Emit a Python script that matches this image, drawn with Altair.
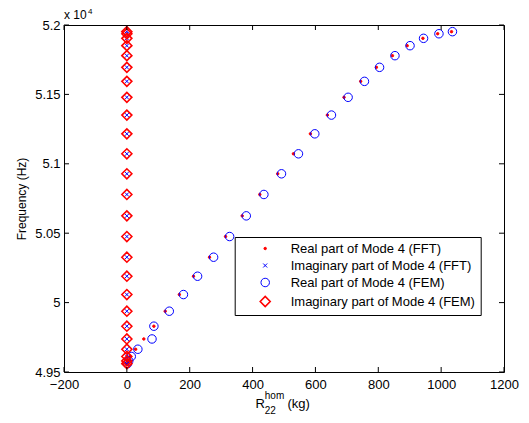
import altair as alt
import pandas as pd

FONT = "Liberation Sans"

# ---- data ----
freq_hz = [51952, 51937, 51904, 51851, 51779, 51695, 51594, 51479, 51351, 51216,
           51072, 50928, 50779, 50625, 50476, 50327, 50190, 50058, 49938, 49830,
           49738, 49664, 49612, 49580, 49560]
real_fft = [1033, 989, 942, 892, 845, 794, 744, 691, 638, 584,
            530, 480, 423, 367, 314, 263, 212, 167, 122, 86,
            54, 28, 10, 4, 1]
imag_fft = [0, 0, 0, 0, 0, 0, 0, 0, 0, 0,
            0, 0, 0, 0, 0, 0, 0, 0, 0, 0,
            0, 0, 0, 0, 0]
real_fem = [1036, 993, 944, 901, 853, 804, 756, 704, 651, 598,
            546, 492, 436, 380, 327, 276, 225, 180, 135, 86,
            80, 35, 14, 6, 2]
imag_fem = [0, 0, 0, 0, 0, 0, 0, 0, 0, 0,
            0, 0, 0, 0, 0, 0, 0, 0, 0, 0,
            0, 0, 0, 0, 0]

series_names = ["Real part of Mode 4 (FFT)", "Imaginary part of Mode 4 (FFT)",
                "Real part of Mode 4 (FEM)", "Imaginary part of Mode 4 (FEM)"]
series_values = [real_fft, imag_fft, real_fem, imag_fem]
series_stroke = ["#ff0000", "#0000ff", "#0000ff", "#ff0000"]
series_fill = ["#ff0000", "transparent", "transparent", "transparent"]
series_shape = ["circle", "M-1,-1L1,1M-1,1L1,-1", "circle", "diamond"]
series_size = [6, 16, 72, 100]
series_width = [1, 1, 1, 1.6]

x_ticks = [-200, 0, 200, 400, 600, 800, 1000, 1200]
y_ticks = [49500, 50000, 50500, 51000, 51500, 52000]

x_title_parts = ["R", "22", "hom", "(kg)"]
y_title = "Frequency (Hz)"
y_multiplier = ["x 10", "4"]

# ---- build table ----
rows = []
for name, vals in zip(series_names, series_values):
    for f, v in zip(freq_hz, vals):
        rows.append({"series": name, "r": v, "f": f})
df = pd.DataFrame(rows)

W, H = 440, 347
xscale = alt.Scale(domain=[-200, 1200], nice=False, zero=False)
yscale = alt.Scale(domain=[49500, 52000], nice=False, zero=False)

x_axis = alt.Axis(values=x_ticks, title=None, ticks=False, domain=False,
                  grid=False, labelFontSize=13, labelFont=FONT, format="d",
                  labelPadding=6, labelFlush=False, labelOverlap=False,
                  labelColor="black")
y_axis = alt.Axis(values=y_ticks, title=y_title, ticks=False, domain=False,
                  grid=False, labelFontSize=13, labelFont=FONT,
                  labelPadding=4, labelOverlap=False, labelColor="black",
                  labelExpr="format(datum.value/10000, '.3~g')",
                  titleFont=FONT, titleFontSize=12, titleFontWeight="normal",
                  titleColor="black", titlePadding=6)

leg = alt.Legend(orient="none", legendX=170.7, legendY=212, title=None,
                 strokeColor="black", fillColor="white", padding=5,
                 labelFontSize=13, labelFont=FONT, labelColor="black",
                 labelLimit=400, rowPadding=3, symbolOffset=19, labelOffset=19,
                 symbolStrokeWidth=1)

points = alt.Chart(df).mark_point(filled=False, opacity=1).encode(
    x=alt.X("r:Q", scale=xscale, axis=x_axis),
    y=alt.Y("f:Q", scale=yscale, axis=y_axis),
    stroke=alt.Stroke("series:N", scale=alt.Scale(domain=series_names, range=series_stroke), legend=leg),
    fill=alt.Fill("series:N", scale=alt.Scale(domain=series_names, range=series_fill), legend=leg),
    shape=alt.Shape("series:N", scale=alt.Scale(domain=series_names, range=series_shape), legend=leg),
    size=alt.Size("series:N", scale=alt.Scale(type="ordinal", domain=series_names, range=series_size), legend=leg),
    strokeWidth=alt.StrokeWidth("series:N", scale=alt.Scale(type="ordinal", domain=series_names, range=series_width), legend=None),
)

xt = pd.DataFrame({"v": x_ticks})
yt = pd.DataFrame({"v": y_ticks})
TL = 5
tick_bottom = alt.Chart(xt).mark_rule(color="black", strokeWidth=1).encode(
    x=alt.X("v:Q", scale=xscale, axis=x_axis), y=alt.value(H), y2=alt.value(H - TL))
tick_top = alt.Chart(xt).mark_rule(color="black", strokeWidth=1).encode(
    x=alt.X("v:Q", scale=xscale, axis=x_axis), y=alt.value(0), y2=alt.value(TL))
tick_left = alt.Chart(yt).mark_rule(color="black", strokeWidth=1).encode(
    y=alt.Y("v:Q", scale=yscale, axis=y_axis), x=alt.value(0), x2=alt.value(TL))
tick_right = alt.Chart(yt).mark_rule(color="black", strokeWidth=1).encode(
    y=alt.Y("v:Q", scale=yscale, axis=y_axis), x=alt.value(W - TL), x2=alt.value(W))


def txt(s, x, y, size):
    return alt.Chart(pd.DataFrame({"t": [s]})).mark_text(
        align="left", baseline="alphabetic", font=FONT, fontSize=size, color="black"
    ).encode(x=alt.value(x), y=alt.value(y), text="t:N")


title_R = txt(x_title_parts[0], 191.4, 383, 13)
title_sub = txt(x_title_parts[1], 200.8, 389, 10)
title_sup = txt(x_title_parts[2], 200.8, 374, 10)
title_kg = txt(x_title_parts[3], 223.5, 383, 13)
mult_a = txt(y_multiplier[0], 0, -6, 12)
mult_b = txt(y_multiplier[1], 24, -11, 8)

chart = alt.layer(
    points, tick_bottom, tick_top, tick_left, tick_right,
    title_R, title_sub, title_sup, title_kg, mult_a, mult_b
).properties(
    width=W, height=H,
    autosize=alt.AutoSizeParams(type="none"),
    padding={"left": 56, "top": 17, "right": 17, "bottom": 43},
    background="white",
).configure_view(stroke="black", strokeWidth=1)

chart.save("out.html", embed_options={"renderer": "svg", "actions": False})
